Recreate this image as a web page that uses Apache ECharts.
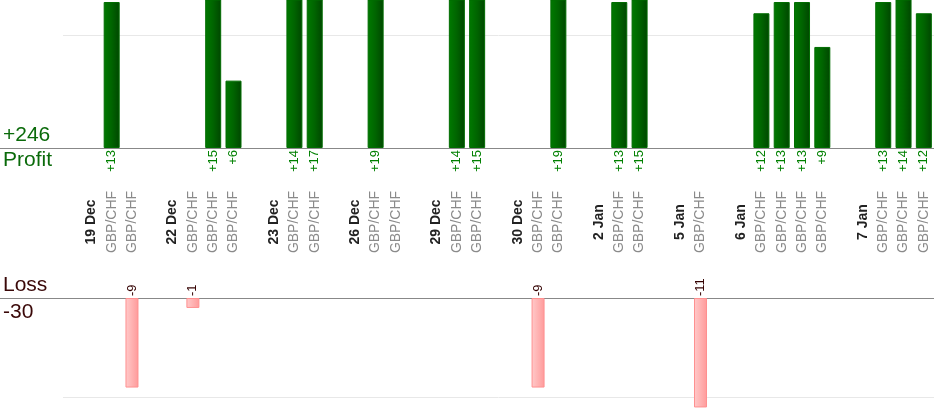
<!DOCTYPE html>
<html>
<head>
<meta charset="utf-8">
<script src="https://cdn.jsdelivr.net/npm/echarts@6/dist/echarts.min.js"></script>
<style>
html,body{margin:0;padding:0;background:#fff;}
#chart{width:934px;height:420px;}
</style>
</head>
<body>
<div id="chart"></div>
<script>
const categories = ['', '', '', '',
  '19 Dec', 'GBP/CHF', 'GBP/CHF', '',
  '22 Dec', 'GBP/CHF', 'GBP/CHF', 'GBP/CHF', '',
  '23 Dec', 'GBP/CHF', 'GBP/CHF', '',
  '26 Dec', 'GBP/CHF', 'GBP/CHF', '',
  '29 Dec', 'GBP/CHF', 'GBP/CHF', '',
  '30 Dec', 'GBP/CHF', 'GBP/CHF', '',
  '2 Jan', 'GBP/CHF', 'GBP/CHF', '',
  '5 Jan', 'GBP/CHF', '',
  '6 Jan', 'GBP/CHF', 'GBP/CHF', 'GBP/CHF', 'GBP/CHF', '',
  '7 Jan', 'GBP/CHF', 'GBP/CHF', 'GBP/CHF'];
const dates = ['19 Dec', '22 Dec', '23 Dec', '26 Dec', '29 Dec', '30 Dec', '2 Jan', '5 Jan', '6 Jan', '7 Jan'];
const profit = [null, null, null, null,
  null, 13, null, null,
  null, null, 15, 6, null,
  null, 14, 17, null,
  null, 19, null, null,
  null, 14, 15, null,
  null, null, 19, null,
  null, 13, 15, null,
  null, null, null,
  null, 12, 13, 13, 9, null,
  null, 13, 14, 12];
const loss = [null, null, null, null,
  null, null, -9, null,
  null, -1, null, null, null,
  null, null, null, null,
  null, null, null, null,
  null, null, null, null,
  null, -9, null, null,
  null, null, null, null,
  null, -11, null,
  null, null, null, null, null, null,
  null, null, null, null];
const profitTitle = 'Profit';
const lossTitle = 'Loss';

const profitTotal = profit.reduce((a, b) => a + (b || 0), 0);
const lossTotal = loss.reduce((a, b) => a + (b || 0), 0);

const FONT = '"Liberation Sans", Arial, sans-serif';
const chart = echarts.init(document.getElementById('chart'), null, {renderer: 'canvas'});

const option = {
  animation: false,
  textStyle: {fontFamily: FONT},
  grid: [
    {left: 0, right: 0, top: 0, height: 148},
    {left: 0, right: 0, top: 298, height: 122},
    {left: 63, right: 0, top: 0, height: 148},
    {left: 63, right: 0, top: 298, height: 122}
  ],
  xAxis: [
    {
      type: 'category', gridIndex: 0, data: categories, position: 'bottom',
      axisLine: {show: true, lineStyle: {color: '#888', width: 1}},
      axisTick: {show: false},
      axisLabel: {
        interval: 0, rotate: 90, margin: 2, fontSize: 13, color: '#008000', fontFamily: FONT,
        formatter: (v, i) => profit[i] == null ? '' : '+' + profit[i]
      }
    },
    {
      type: 'category', gridIndex: 1, data: categories, position: 'top',
      axisLine: {show: true, onZero: true, lineStyle: {color: '#888', width: 1}},
      axisTick: {show: false},
      axisLabel: {
        interval: 0, rotate: 90, margin: 2, fontSize: 13, color: '#330000', fontFamily: FONT,
        formatter: (v, i) => loss[i] == null ? '' : String(loss[i])
      }
    },
    {
      type: 'category', gridIndex: 0, data: categories, position: 'bottom',
      axisLine: {show: false}, axisTick: {show: false},
      axisLabel: {
        interval: 0, rotate: 90, margin: 74, align: 'center', verticalAlign: 'middle',
        fontFamily: FONT,
        formatter: (v) => v === '' ? '' : (dates.includes(v) ? '{d|' + v + '}' : '{p|' + v + '}'),
        rich: {
          d: {fontWeight: 'bold', fontSize: 14, color: '#222', fontFamily: FONT},
          p: {fontSize: 14, color: '#8a8a8a', fontFamily: FONT}
        }
      }
    },
    {type: 'value', gridIndex: 2, min: 0, max: 1, show: false},
    {type: 'value', gridIndex: 3, min: 0, max: 1, show: false}
  ],
  yAxis: [
    {type: 'value', gridIndex: 0, min: 0, max: 13.18, show: false, splitLine: {show: false}},
    {type: 'value', gridIndex: 1, min: -12.26, max: 0, show: false, splitLine: {show: false}},
    {
      type: 'value', gridIndex: 2, min: 0, max: 13.18, interval: 10,
      axisLine: {show: false}, axisTick: {show: false}, axisLabel: {show: false},
      splitLine: {show: true, showMinLine: false, showMaxLine: false, lineStyle: {color: '#e8e8e8', width: 1}}
    },
    {
      type: 'value', gridIndex: 3, min: 0, max: 12.26, interval: 10, inverse: true,
      axisLine: {show: false}, axisTick: {show: false}, axisLabel: {show: false},
      splitLine: {show: true, showMinLine: false, showMaxLine: false, lineStyle: {color: '#e8e8e8', width: 1}}
    }
  ],
  series: [
    {
      type: 'bar', xAxisIndex: 0, yAxisIndex: 0, data: profit, barWidth: 16,
      itemStyle: {
        color: new echarts.graphic.LinearGradient(0, 0, 1, 0, [
          {offset: 0, color: '#007a00'},
          {offset: 0.5, color: '#006400'},
          {offset: 1, color: '#004600'}
        ]),
        borderColor: '#006c00', borderWidth: 1
      }
    },
    {
      type: 'bar', xAxisIndex: 1, yAxisIndex: 1, data: loss, barWidth: 13,
      itemStyle: {
        color: new echarts.graphic.LinearGradient(0, 0, 1, 0, [
          {offset: 0, color: '#ffcaca'},
          {offset: 1, color: '#ff9a9a'}
        ]),
        borderColor: '#ff9090', borderWidth: 1
      }
    }
  ],
  graphic: [
    {type: 'text', left: 3, top: 125, style: {text: '+' + profitTotal, font: '21px ' + FONT, fill: '#0a6a0a'}},
    {type: 'text', left: 3, top: 150, style: {text: profitTitle, font: '21px ' + FONT, fill: '#0a6a0a'}},
    {type: 'text', left: 3, top: 275, style: {text: lossTitle, font: '21px ' + FONT, fill: '#3a0808'}},
    {type: 'text', left: 3, top: 302, style: {text: String(lossTotal), font: '21px ' + FONT, fill: '#3a0808'}}
  ]
};
chart.setOption(option);
</script>
</body>
</html>
